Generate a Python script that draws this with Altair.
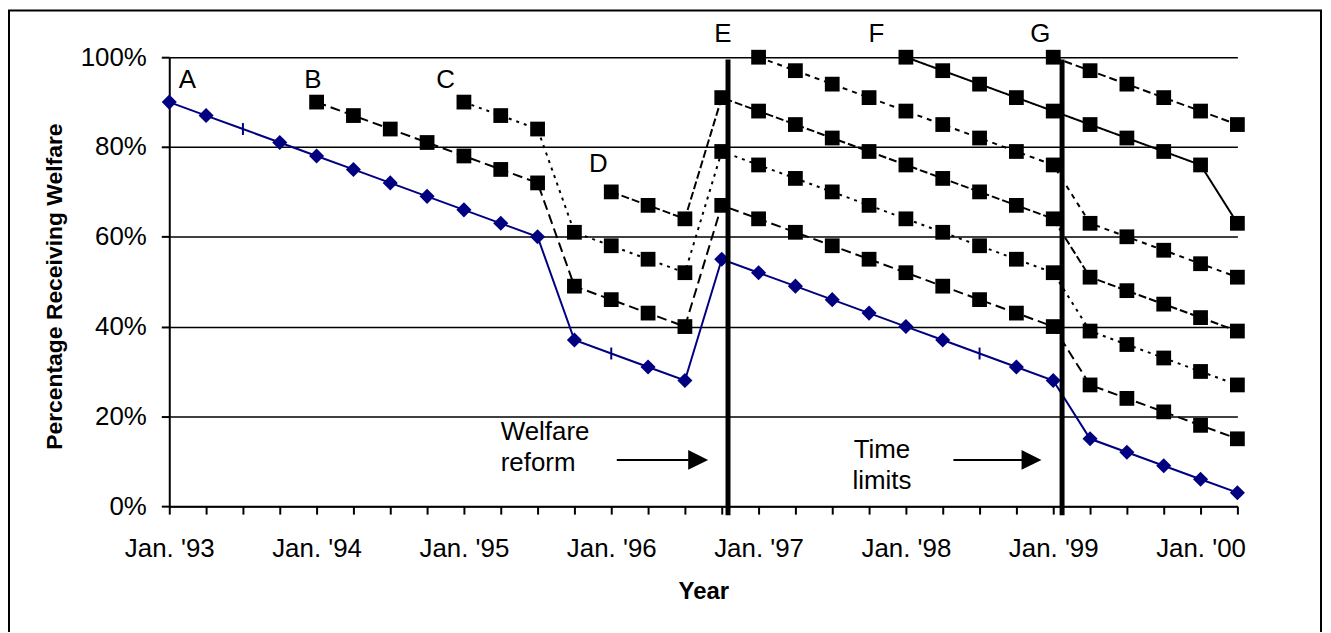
import json

import altair as alt
import pandas as pd

# quarter index: 0 = Jan. '93, 4 = Jan. '94, ... 28 = Jan. '00, 29 = Apr. '00
quarters = list(range(30))
year_labels = ["Jan. '93", "Jan. '94", "Jan. '95", "Jan. '96",
               "Jan. '97", "Jan. '98", "Jan. '99", "Jan. '00"]
pct_ticks = [0, 20, 40, 60, 80, 100]

# cohort A (blue), starts in quarter 0
cohort_a = [90, 87, 84, 81, 78, 75, 72, 69, 66, 63, 60, 37, 34, 31, 28,
            55, 52, 49, 46, 43, 40, 37, 34, 31, 28, 15, 12, 9, 6, 3]
cohort_a_ticks = [2, 12, 22]  # points drawn as a small bar, not a diamond

# cohorts B..G (black squares): first quarter and values
cohort_names = ["B", "C", "D", "E", "F", "G"]
cohort_starts = [4, 8, 12, 16, 20, 24]
cohort_b = [90, 87, 84, 81, 78, 75, 72, 49, 46, 43, 40, 67, 64, 61, 58,
            55, 52, 49, 46, 43, 40, 27, 24, 21, 18, 15]
cohort_c = [90, 87, 84, 61, 58, 55, 52, 79, 76, 73, 70, 67, 64, 61, 58,
            55, 52, 39, 36, 33, 30, 27]
cohort_d = [70, 67, 64, 91, 88, 85, 82, 79, 76, 73, 70, 67, 64, 51, 48,
            45, 42, 39]
cohort_e = [100, 97, 94, 91, 88, 85, 82, 79, 76, 63, 60, 57, 54, 51]
cohort_f = [100, 97, 94, 91, 88, 85, 82, 79, 76, 63]
cohort_g = [100, 97, 94, 91, 88, 85]
cohort_values = [cohort_b, cohort_c, cohort_d, cohort_e, cohort_f, cohort_g]
cohort_dashes = [[10, 5], [3, 5], [8, 3], [5, 5], [1, 0], [8, 4]]

# letter labels
letters = ["A", "B", "C", "D", "E", "F", "G"]
letter_q = [0.49, 3.9, 7.5, 11.65, 15.03, 19.2, 23.65]
letter_pct = [94.9, 94.9, 94.9, 76.2, 105.1, 105.1, 105.1]

# policy dates (welfare reform, time limits)
policy_q = [15.17, 24.24]

# notes and arrows
note_left = ["Welfare", "reform"]
note_left_q = [9.0, 9.0]
note_left_pct = [16.4, 9.5]
note_center = ["Time", "limits"]
note_center_q = [19.35, 19.35]
note_center_pct = [12.6, 5.6]
arrow_q = [12.15, 21.29]
arrow_q2 = [14.1, 23.16]
arrow_head_q = [14.36, 23.41]
arrow_pct = [10.3, 10.3]

FONT = "Liberation Sans"

blue_df = pd.DataFrame({"q": quarters, "pct": cohort_a})
blue_df["marker"] = ["tick" if q in cohort_a_ticks else "diamond" for q in quarters]

rows = []
for name, start, vals in zip(cohort_names, cohort_starts, cohort_values):
    for i, v in enumerate(vals):
        rows.append({"q": start + i, "pct": v, "cohort": name})
cohort_df = pd.DataFrame(rows)

x_scale = alt.Scale(domain=[0, 29], nice=False, zero=False)
y_scale = alt.Scale(domain=[0, 100], nice=False, zero=False)

label_expr = "datum.value % 4 == 0 ? " + json.dumps(year_labels) + "[datum.value / 4] : ''"

x_axis = alt.Axis(
    values=quarters, tickCount=len(quarters), labelExpr=label_expr, grid=False,
    domainColor="black", domainWidth=2, tickColor="black", tickWidth=2,
    tickSize=8, labelFont=FONT, labelFontSize=26, labelColor="black",
    labelPadding=22, labelFlush=False, labelOverlap=False,
    title="Year", titleFont=FONT, titleFontSize=24, titleFontWeight="bold",
    titleColor="black", titleBaseline="middle", titleY=86,
)
y_axis = alt.Axis(
    values=pct_ticks, labelExpr="datum.value + '%'", grid=True,
    gridColor="black", gridWidth=1.5, domainColor="black", domainWidth=2,
    tickColor="black", tickWidth=2, tickSize=8, labelFont=FONT,
    labelFontSize=26, labelColor="black", labelPadding=15,
    title="Percentage Receiving Welfare", titleFont=FONT, titleFontSize=23,
    titleFontWeight="bold", titleColor="black", titleAngle=270,
    titleAlign="center", titleBaseline="middle", titleX=-115, titleY=230,
)


def xq(field="q", axis=False):
    if axis:
        return alt.X(field, type="quantitative", scale=x_scale, axis=x_axis)
    return alt.X(field, type="quantitative", scale=x_scale)


def yp(field="pct", axis=False):
    if axis:
        return alt.Y(field, type="quantitative", scale=y_scale, axis=y_axis)
    return alt.Y(field, type="quantitative", scale=y_scale)


frame = (
    alt.Chart(pd.DataFrame({"k": [0]}))
    .mark_rect(fillOpacity=0, stroke="black", strokeWidth=2)
    .encode(x=alt.value(-161), x2=alt.value(1157), y=alt.value(-47), y2=alt.value(700))
)

cohort_lines = (
    alt.Chart(cohort_df)
    .mark_line(color="black", strokeWidth=2)
    .encode(
        x=xq(axis=True),
        y=yp(axis=True),
        detail="cohort:N",
        strokeDash=alt.StrokeDash(
            "cohort:N",
            scale=alt.Scale(domain=cohort_names, range=cohort_dashes),
            legend=None,
        ),
    )
)

blue_line = (
    alt.Chart(blue_df)
    .mark_line(color="#000080", strokeWidth=2)
    .encode(x=xq(), y=yp())
)

squares = (
    alt.Chart(cohort_df)
    .mark_point(shape="square", filled=True, size=220, color="black", opacity=1)
    .encode(x=xq(), y=yp())
)

diamonds = (
    alt.Chart(blue_df)
    .transform_filter("datum.marker == 'diamond'")
    .mark_point(shape="diamond", filled=True, size=230, color="#000080", opacity=1)
    .encode(x=xq(), y=yp())
)

bars = (
    alt.Chart(blue_df)
    .transform_filter("datum.marker == 'tick'")
    .mark_point(shape="M0,-1L0,1", filled=False, size=144, color="#000080",
                strokeWidth=2, opacity=1)
    .encode(x=xq(), y=yp())
)

policy = (
    alt.Chart(pd.DataFrame({"q": policy_q, "pct": [99.5, 99.5], "pct2": [-2, -2]}))
    .mark_rule(color="black", strokeWidth=5)
    .encode(x=xq(), y=yp(), y2="pct2")
)

letter_text = (
    alt.Chart(pd.DataFrame({"q": letter_q, "pct": letter_pct, "t": letters}))
    .mark_text(font=FONT, fontSize=26, color="black", align="center", baseline="middle")
    .encode(x=xq(), y=yp(), text="t:N")
)

note_l = (
    alt.Chart(pd.DataFrame({"q": note_left_q, "pct": note_left_pct, "t": note_left}))
    .mark_text(font=FONT, fontSize=26, color="black", align="left", baseline="middle")
    .encode(x=xq(), y=yp(), text="t:N")
)

note_c = (
    alt.Chart(pd.DataFrame({"q": note_center_q, "pct": note_center_pct, "t": note_center}))
    .mark_text(font=FONT, fontSize=26, color="black", align="center", baseline="middle")
    .encode(x=xq(), y=yp(), text="t:N")
)

arrow_df = pd.DataFrame({"q": arrow_q, "q2": arrow_q2, "pct": arrow_pct, "qh": arrow_head_q})

arrow_lines = (
    alt.Chart(arrow_df)
    .mark_rule(color="black", strokeWidth=2)
    .encode(x=xq(), x2="q2", y=yp())
)

arrow_heads = (
    alt.Chart(arrow_df)
    .mark_point(shape="M-1,-1L1,0L-1,1Z", filled=True, size=400, color="black", opacity=1)
    .encode(x=xq("qh"), y=yp())
)

chart = (
    alt.layer(
        frame, cohort_lines, blue_line, squares, diamonds, bars, policy,
        letter_text, note_l, note_c, arrow_lines, arrow_heads,
    )
    .properties(
        width=1073,
        height=451,
        autosize=alt.AutoSizeParams(type="none"),
        padding={"left": 162, "top": 48, "right": 86, "bottom": 125},
    )
    .configure(font=FONT)
    .configure_view(stroke=None)
)

chart.save("out.html", embed_options={"renderer": "svg", "actions": False})
